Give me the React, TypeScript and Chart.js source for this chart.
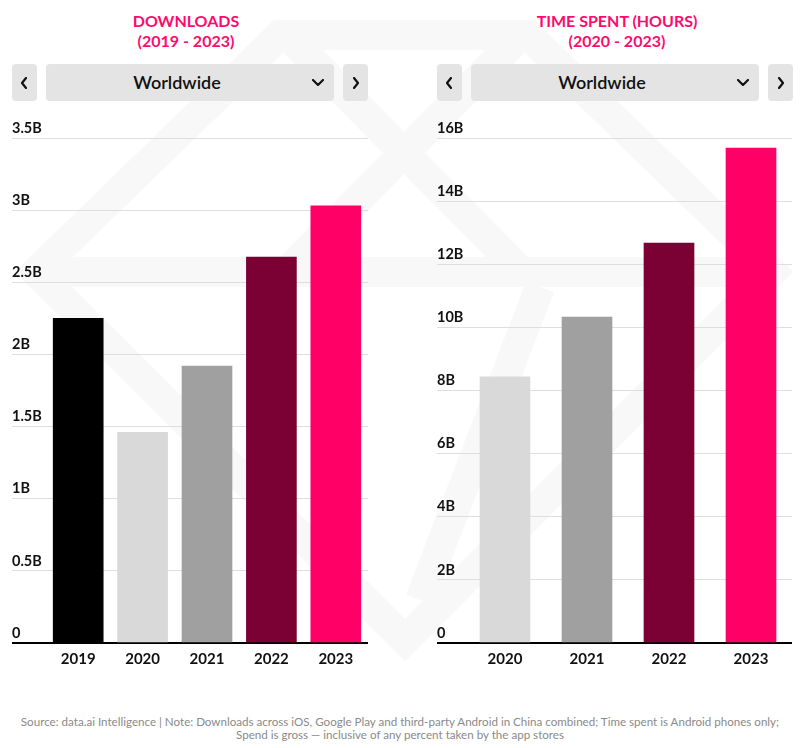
import React, { useEffect, useRef } from "react";
import { Chart, registerables } from "chart.js";

Chart.register(...registerables);

const downloadYears = ["2019", "2020", "2021", "2022", "2023"];
const downloadValues = [2.25, 1.46, 1.92, 2.675, 3.03];
const downloadColors = ["#000000", "#d9d9d9", "#a0a0a0", "#7b0034", "#ff0066"];
const downloadMax = 3.5;
const downloadStep = 0.5;

const timeYears = ["2020", "2021", "2022", "2023"];
const timeValues = [8.43, 10.33, 12.67, 15.68];
const timeColors = ["#d9d9d9", "#a0a0a0", "#7b0034", "#ff0066"];
const timeMax = 16;
const timeStep = 2;

const FONT = "Lato, 'Noto Sans', sans-serif";

function BarChart(props: {
  labels: string[];
  values: number[];
  colors: string[];
  max: number;
  step: number;
  axisWidth: number;
  left: number;
  width: number;
}) {
  const ref = useRef<HTMLCanvasElement | null>(null);
  useEffect(() => {
    if (!ref.current) return;
    const aw = props.axisWidth;
    const chart = new Chart(ref.current, {
      type: "bar",
      data: {
        labels: props.labels,
        datasets: [
          {
            data: props.values,
            backgroundColor: props.colors,
            barThickness: 50,
            borderWidth: 0,
          },
        ],
      },
      options: {
        animation: false,
        responsive: true,
        maintainAspectRatio: false,
        layout: { padding: { top: 18, left: 0, right: 0, bottom: 0 } },
        plugins: { legend: { display: false }, tooltip: { enabled: false } },
        scales: {
          x: {
            grid: { display: false, drawTicks: false },
            border: { display: false },
            ticks: {
              color: "#111",
              padding: 7,
              font: { family: FONT, size: 15, weight: "bold" },
            },
            afterFit: (s: any) => {
              s.height = 30;
            },
          },
          y: {
            min: 0,
            max: props.max,
            border: { display: false },
            grid: {
              drawTicks: true,
              tickLength: aw,
              color: (c: any) => (c.tick && c.tick.value === 0 ? "#000" : "#dedede"),
              lineWidth: (c: any) => (c.tick && c.tick.value === 0 ? 2 : 1),
            },
            ticks: {
              stepSize: props.step,
              crossAlign: "far",
              labelOffset: -10,
              padding: 0,
              color: "#111",
              font: { family: FONT, size: 14.5, weight: "bold" },
              callback: (v: any) => (Number(v) === 0 ? "0" : `${v}B`),
            },
            afterFit: (s: any) => {
              s.width = aw;
            },
          },
        },
      } as any,
    });
    return () => chart.destroy();
  }, []);
  return (
    <div
      style={{
        position: "absolute",
        left: props.left,
        top: 120,
        width: props.width,
        height: 553,
      }}
    >
      <canvas ref={ref} />
    </div>
  );
}

function Chevron(props: { dir: "left" | "right" | "down"; x: number; y: number }) {
  const pts =
    props.dir === "left"
      ? "5,1 1,6 5,11"
      : props.dir === "right"
      ? "1,1 5,6 1,11"
      : "1,1 6,6 11,1";
  const w = props.dir === "down" ? 12 : 6;
  const h = props.dir === "down" ? 7 : 12;
  return (
    <svg
      width={w}
      height={h}
      style={{ position: "absolute", left: props.x, top: props.y }}
      viewBox={`0 0 ${w} ${h}`}
    >
      <polyline points={pts} fill="none" stroke="#111" strokeWidth={2.2} strokeLinecap="round" strokeLinejoin="round" />
    </svg>
  );
}

function Selector(props: { left: number }) {
  const L = props.left;
  const box: React.CSSProperties = {
    position: "absolute",
    top: 64,
    height: 37,
    background: "#e4e4e4",
    borderRadius: 4,
  };
  return (
    <>
      <div style={{ ...box, left: L, width: 25 }} />
      <Chevron dir="left" x={L + 9} y={77} />
      <div style={{ ...box, left: L + 34, width: 288 }} />
      <div
        style={{
          position: "absolute",
          left: L + 34,
          width: 262,
          top: 64,
          height: 37,
          lineHeight: "37px",
          textAlign: "center",
          fontFamily: FONT,
          fontSize: 18,
          fontWeight: 600,
          color: "#111",
        }}
      >
        Worldwide
      </div>
      <Chevron dir="down" x={L + 300} y={79} />
      <div style={{ ...box, left: L + 331, width: 25 }} />
      <Chevron dir="right" x={L + 341} y={77} />
    </>
  );
}

function Title(props: { center: number; lines: string[] }) {
  return (
    <div
      style={{
        position: "absolute",
        left: props.center - 150,
        width: 300,
        top: 11,
        textAlign: "center",
        fontFamily: FONT,
        fontSize: 16,
        fontWeight: 700,
        lineHeight: "20px",
        color: "#ff0a6c",
      }}
    >
      {props.lines.map((l, i) => (
        <div key={i}>{l}</div>
      ))}
    </div>
  );
}

export default function App() {
  return (
    <div
      style={{
        position: "absolute",
        left: 0,
        top: 0,
        width: 800,
        height: 748,
        background: "#fff",
        overflow: "hidden",
      }}
    >
      <svg width={800} height={748} style={{ position: "absolute", left: 0, top: 0 }}>
        <g fill="none" stroke="#f8f8f8" strokeWidth={30} strokeLinejoin="miter">
          <polygon points="280,35 528,35 772,272 405,640 36,272" />
          <polyline points="292,40 522,272" />
          <polyline points="516,40 286,272" />
          <polyline points="40,272 768,272" />
          <polyline points="540,287 420,600" />
        </g>
      </svg>
      <Title center={186} lines={["DOWNLOADS", "(2019 - 2023)"]} />
      <Title center={617} lines={["TIME SPENT (HOURS)", "(2020 - 2023)"]} />
      <Selector left={12} />
      <Selector left={437} />
      <BarChart
        labels={downloadYears}
        values={downloadValues}
        colors={downloadColors}
        max={downloadMax}
        step={downloadStep}
        axisWidth={34}
        left={12}
        width={356}
      />
      <BarChart
        labels={timeYears}
        values={timeValues}
        colors={timeColors}
        max={timeMax}
        step={timeStep}
        axisWidth={27}
        left={437}
        width={355}
      />
      <div
        style={{
          position: "absolute",
          left: 0,
          width: 800,
          top: 715,
          textAlign: "center",
          fontFamily: FONT,
          fontSize: 11.6,
          lineHeight: "13px",
          color: "#8a8a8a",
          whiteSpace: "nowrap",
        }}
      >
        <div>
          Source: data.ai Intelligence | Note: Downloads across iOS, Google Play and third-party Android in China combined; Time spent is Android phones only;
        </div>
        <div>Spend is gross — inclusive of any percent taken by the app stores</div>
      </div>
    </div>
  );
}
